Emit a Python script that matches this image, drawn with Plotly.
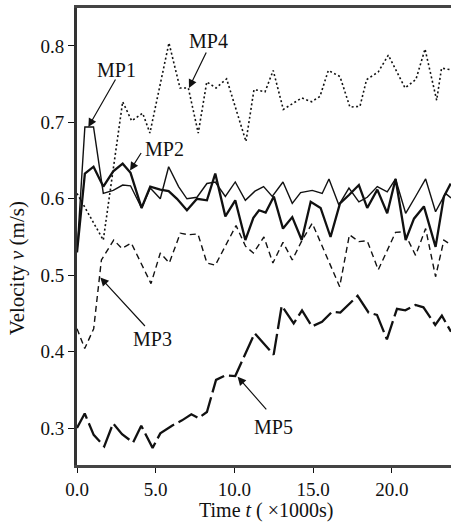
import plotly.graph_objects as go

# ---------------- data ----------------
mp1_t = [0, 0.5, 1.05, 1.67, 2.3, 2.9, 3.4, 4.1, 4.65, 5.29, 5.82, 6.45, 6.98, 7.62, 8.25, 8.78,
         9.42, 10.05, 10.69, 11.3, 11.85, 12.4, 13.08, 13.67, 14.2, 14.94, 15.57, 16.0, 16.63,
         17.27, 17.9, 18.43, 19.07, 19.7, 20.23, 20.87, 21.5, 22.14, 22.77, 23.4, 23.75]
mp1_v = [0.53, 0.694, 0.694, 0.607, 0.611, 0.618, 0.617, 0.588, 0.614, 0.600, 0.642, 0.616,
         0.600, 0.602, 0.620, 0.622, 0.603, 0.622, 0.598, 0.610, 0.616, 0.603, 0.622, 0.594,
         0.608, 0.611, 0.607, 0.626, 0.592, 0.614, 0.596, 0.602, 0.616, 0.609, 0.626, 0.581,
         0.603, 0.626, 0.583, 0.607, 0.601]

mp2_t = [0, 0.5, 1.05, 1.67, 2.3, 2.9, 3.4, 4.1, 4.65, 5.29, 5.82, 6.35, 6.98, 7.62, 8.25,
         8.78, 9.42, 10.05, 10.69, 11.2, 11.56, 11.98, 12.5, 13.08, 13.67, 14.27, 14.84, 15.47,
         16.1, 16.7, 17.27, 17.9, 18.43, 19.07, 19.7, 20.23, 20.87, 21.4, 22.03, 22.77, 23.3, 23.73]
mp2_v = [0.53, 0.633, 0.642, 0.616, 0.636, 0.646, 0.634, 0.588, 0.616, 0.612, 0.610, 0.600,
         0.585, 0.600, 0.598, 0.633, 0.577, 0.598, 0.546, 0.575, 0.585, 0.582, 0.603, 0.561,
         0.576, 0.546, 0.596, 0.588, 0.550, 0.594, 0.605, 0.618, 0.588, 0.612, 0.581, 0.626,
         0.546, 0.574, 0.590, 0.537, 0.603, 0.620]

mp3_t = [0, 0.49, 1.06, 1.55, 2.33, 2.86, 3.45, 4.7, 5.29, 5.86, 6.56, 7.09, 7.68, 8.25, 8.78,
         10.1, 10.7, 11.2, 11.87, 12.44, 13.08, 13.67, 14.3, 14.94, 16.68, 17.3, 17.9, 18.43,
         19.13, 20.23, 20.76, 21.5, 22.14, 22.77, 23.3, 23.73]
mp3_v = [0.43, 0.404, 0.430, 0.520, 0.546, 0.535, 0.542, 0.489, 0.529, 0.516, 0.555, 0.553,
         0.554, 0.516, 0.513, 0.565, 0.538, 0.529, 0.550, 0.516, 0.543, 0.520, 0.546, 0.568,
         0.485, 0.553, 0.544, 0.545, 0.507, 0.556, 0.557, 0.526, 0.561, 0.498, 0.546, 0.540]

mp4_t = [0, 1.67, 2.9, 3.47, 4.17, 4.63, 5.84, 6.54, 7.07, 7.7, 8.24, 8.83, 9.5, 10.73, 11.24,
         11.94, 12.46, 13.1, 14.27, 14.9, 15.43, 15.96, 16.7, 17.33, 17.97, 18.39, 19.13,
         19.77, 20.83, 21.52, 22.1, 22.84, 23.15, 23.68]
mp4_v = [0.607, 0.546, 0.727, 0.702, 0.712, 0.686, 0.804, 0.745, 0.745, 0.686, 0.753, 0.745,
         0.757, 0.675, 0.743, 0.740, 0.768, 0.717, 0.732, 0.727, 0.734, 0.768, 0.760, 0.720,
         0.721, 0.756, 0.766, 0.788, 0.745, 0.756, 0.796, 0.729, 0.771, 0.769]

mp5_t = [0, 0.49, 1.06, 1.73, 2.29, 2.86, 3.56, 4.08, 4.8, 5.29, 6.03, 6.67, 7.26, 7.72, 8.25,
         8.83, 9.42, 10.05, 11.28, 12.49, 13.0, 13.76, 14.29, 14.92, 15.56, 16.19, 16.72, 17.82,
         18.52, 19.05, 19.68, 20.32, 20.85, 21.49, 22.0, 22.75, 23.17, 23.75]
mp5_v = [0.300, 0.319, 0.291, 0.276, 0.306, 0.292, 0.281, 0.303, 0.274, 0.293, 0.303, 0.310,
         0.318, 0.313, 0.321, 0.363, 0.369, 0.368, 0.424, 0.396, 0.460, 0.437, 0.454, 0.433,
         0.439, 0.452, 0.451, 0.473, 0.451, 0.448, 0.416, 0.456, 0.454, 0.461, 0.458, 0.435,
         0.447, 0.426]

x_ticks = [0, 5, 10, 15, 20]
x_tick_labels = ["0.0", "5.0", "10.0", "15.0", "20.0"]
y_ticks = [0.3, 0.4, 0.5, 0.6, 0.7, 0.8]
y_tick_labels = ["0.3", "0.4", "0.5", "0.6", "0.7", "0.8"]

# labels: name, arrow tip (t, v), tail offset (px), text position (t, v)
labels = [
    ("MP1", 0.72, 0.694, 28, -49, 2.5, 0.769),
    ("MP2", 3.37, 0.637, 12, -19, 5.56, 0.665),
    ("MP3", 1.48, 0.497, 46, 50, 4.81, 0.417),
    ("MP4", 7.11, 0.745, 18, -37, 8.35, 0.807),
    ("MP5", 10.2, 0.367, 30, 34, 12.49, 0.301),
]

FONT = "Liberation Serif, Times New Roman, serif"
INK = "#111111"

fig = go.Figure()
fig.add_trace(go.Scatter(x=mp4_t, y=mp4_v, mode="lines", name="MP4",
                         line=dict(color=INK, width=1.6, dash="2px,2.5px")))
fig.add_trace(go.Scatter(x=mp3_t, y=mp3_v, mode="lines", name="MP3",
                         line=dict(color=INK, width=1.4, dash="6px,4px")))
fig.add_trace(go.Scatter(x=mp1_t, y=mp1_v, mode="lines", name="MP1",
                         line=dict(color=INK, width=1.4)))
fig.add_trace(go.Scatter(x=mp2_t, y=mp2_v, mode="lines", name="MP2",
                         line=dict(color=INK, width=2.3)))
fig.add_trace(go.Scatter(x=mp5_t, y=mp5_v, mode="lines", name="MP5",
                         line=dict(color=INK, width=2.3, dash="22px,5px")))

for name, tx, ty, ax, ay, lx, ly in labels:
    fig.add_annotation(x=tx, y=ty, ax=ax, ay=ay, text="", showarrow=True,
                       arrowhead=2, arrowsize=1.4, arrowwidth=1.2, arrowcolor=INK,
                       xref="x", yref="y")
    fig.add_annotation(x=lx, y=ly, text=name, showarrow=False, xref="x", yref="y",
                       font=dict(family=FONT, size=20, color=INK))

fig.add_annotation(text="Velocity <i>v</i> (m/s)", textangle=-90, showarrow=False,
                   xref="paper", yref="paper", x=-0.160, y=0.431,
                   xanchor="center", yanchor="middle",
                   font=dict(family=FONT, size=21, color=INK))
fig.add_annotation(text="Time <i>t</i> ( ×1000s)", showarrow=False,
                   xref="paper", yref="paper", x=0.5045, y=-0.0985,
                   xanchor="center", yanchor="middle",
                   font=dict(family=FONT, size=20, color=INK))

fig.update_layout(
    width=451, height=525,
    margin=dict(l=77, r=0, t=8, b=60),
    paper_bgcolor="white", plot_bgcolor="white",
    showlegend=False,
    font=dict(family=FONT, size=19, color=INK),
)
fig.update_xaxes(range=[0, 23.75], tickvals=x_ticks, ticktext=x_tick_labels,
                 ticks="outside", ticklen=5, tickwidth=1.2, tickcolor=INK,
                 showline=True, linecolor="#444444", linewidth=2.5, mirror=True,
                 showgrid=False, zeroline=False, tickfont=dict(family=FONT, size=19))
fig.update_yaxes(range=[0.2516, 0.8497], tickvals=y_ticks, ticktext=y_tick_labels,
                 ticks="outside", ticklen=6, tickwidth=1.2, tickcolor=INK,
                 showline=True, linecolor="#333333", linewidth=3, mirror=False,
                 showgrid=False, zeroline=False, tickfont=dict(family=FONT, size=19))

fig.write_html("out.html")
